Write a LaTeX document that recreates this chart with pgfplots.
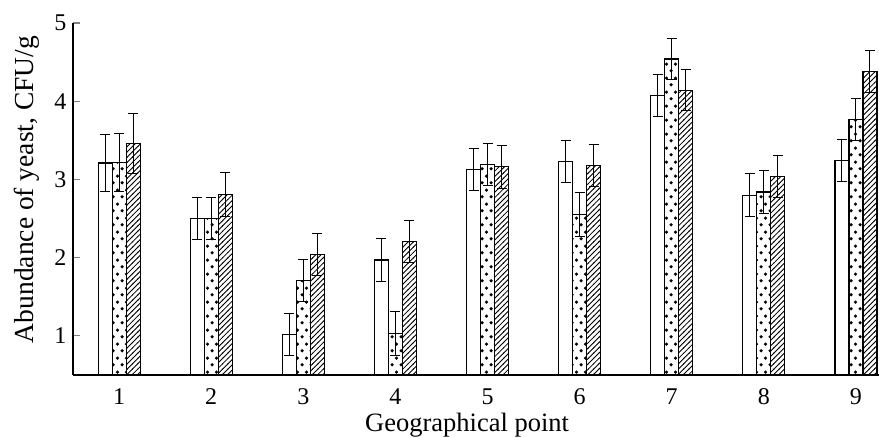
\documentclass[border=0pt]{standalone}
\usepackage{fontspec}
\setmainfont{Liberation Serif}
\usepackage{pgfplots}
\pgfplotsset{compat=1.18}
\usetikzlibrary{patterns.meta}
\tikzdeclarepattern{
  name=mydots,
  type=uncolored,
  bounding box={(0,0) and (9.3pt,14pt)},
  tile size={(9.3pt,14pt)},
  code={
    \fill (2.3pt,3.5pt) circle (1.9pt);
    \fill (6.95pt,10.5pt) circle (1.9pt);
  }
}
\tikzdeclarepattern{
  name=myhatch,
  type=uncolored,
  bounding box={(-0.5pt,-0.5pt) and (5.8pt,5.8pt)},
  tile size={(5.3pt,5.3pt)},
  code={
    \draw[line width=0.85pt] (-0.5pt,-0.5pt) -- (5.8pt,5.8pt);
  }
}
\begin{document}
\begin{tikzpicture}
\begin{axis}[
  at={(0,0)}, anchor=south west,
  scale only axis,
  width=806pt, height=352pt,
  xmin=0.5, xmax=9.25,
  ymin=0.5, ymax=5,
  axis x line=bottom, axis y line=left,
  axis line style={-, line width=1.1pt},
  ybar=0pt, bar width=14pt,
  xtick={1,2,3,4,5,6,7,8,9},
  xticklabels={1,2,3,4,5,6,7,8,9},
  ytick={1,2,3,4,5},
  yticklabels={1,2,3,4,5},
  xtick style={draw=none},
  ytick style={line width=1.1pt},
  tick align=inside,
  major tick length=7pt,
  /pgf/number format/assume math mode=true,
  tick label style={font=\fontsize{24pt}{28pt}\selectfont},
  xticklabel style={anchor=base, yshift=-30pt},
  yticklabel style={anchor=east, xshift=-3pt},
  xlabel={Geographical point},
  ylabel={Abundance of yeast, CFU/g},
  xlabel style={font=\fontsize{26.5pt}{30pt}\selectfont, at={(axis description cs:0.489,0)}, anchor=base, yshift=-57pt},
  ylabel style={font=\fontsize{27.5pt}{31pt}\selectfont, at={(axis description cs:-0.0496,0.527)}, anchor=base},
  every axis plot/.append style={draw=black, line width=1.1pt},
  error bars/error bar style={line width=1pt, black},
  error bars/error mark options={rotate=90, line width=1pt, mark size=5pt, black},
  clip=false,
]
\coordinate (bl) at (rel axis cs:0,0);
% white
\addplot[fill=white, error bars/.cd, y dir=both, y explicit] coordinates {
  (1,3.21) +- (0,0.37)
  (2,2.50) +- (0,0.27)
  (3,1.02) +- (0,0.27)
  (4,1.97) +- (0,0.27)
  (5,3.13) +- (0,0.27)
  (6,3.23) +- (0,0.27)
  (7,4.07) +- (0,0.27)
  (8,2.80) +- (0,0.27)
  (9,3.24) +- (0,0.27)
};
% dotted
\addplot[pattern=mydots, pattern color=black, error bars/.cd, y dir=both, y explicit] coordinates {
  (1,3.22) +- (0,0.37)
  (2,2.50) +- (0,0.27)
  (3,1.71) +- (0,0.265)
  (4,1.03) +- (0,0.28)
  (5,3.19) +- (0,0.27)
  (6,2.55) +- (0,0.28)
  (7,4.54) +- (0,0.26)
  (8,2.84) +- (0,0.27)
  (9,3.77) +- (0,0.27)
};
% hatched
\addplot[pattern=myhatch, pattern color=black, error bars/.cd, y dir=both, y explicit] coordinates {
  (1,3.46) +- (0,0.38)
  (2,2.81) +- (0,0.28)
  (3,2.04) +- (0,0.27)
  (4,2.21) +- (0,0.27)
  (5,3.16) +- (0,0.28)
  (6,3.18) +- (0,0.27)
  (7,4.14) +- (0,0.26)
  (8,3.04) +- (0,0.27)
  (9,4.38) +- (0,0.27)
};
\end{axis}
\pgfresetboundingbox
\path (bl) ++(-73pt,-63pt) rectangle ++(879pt,438pt);
\end{tikzpicture}
\end{document}
